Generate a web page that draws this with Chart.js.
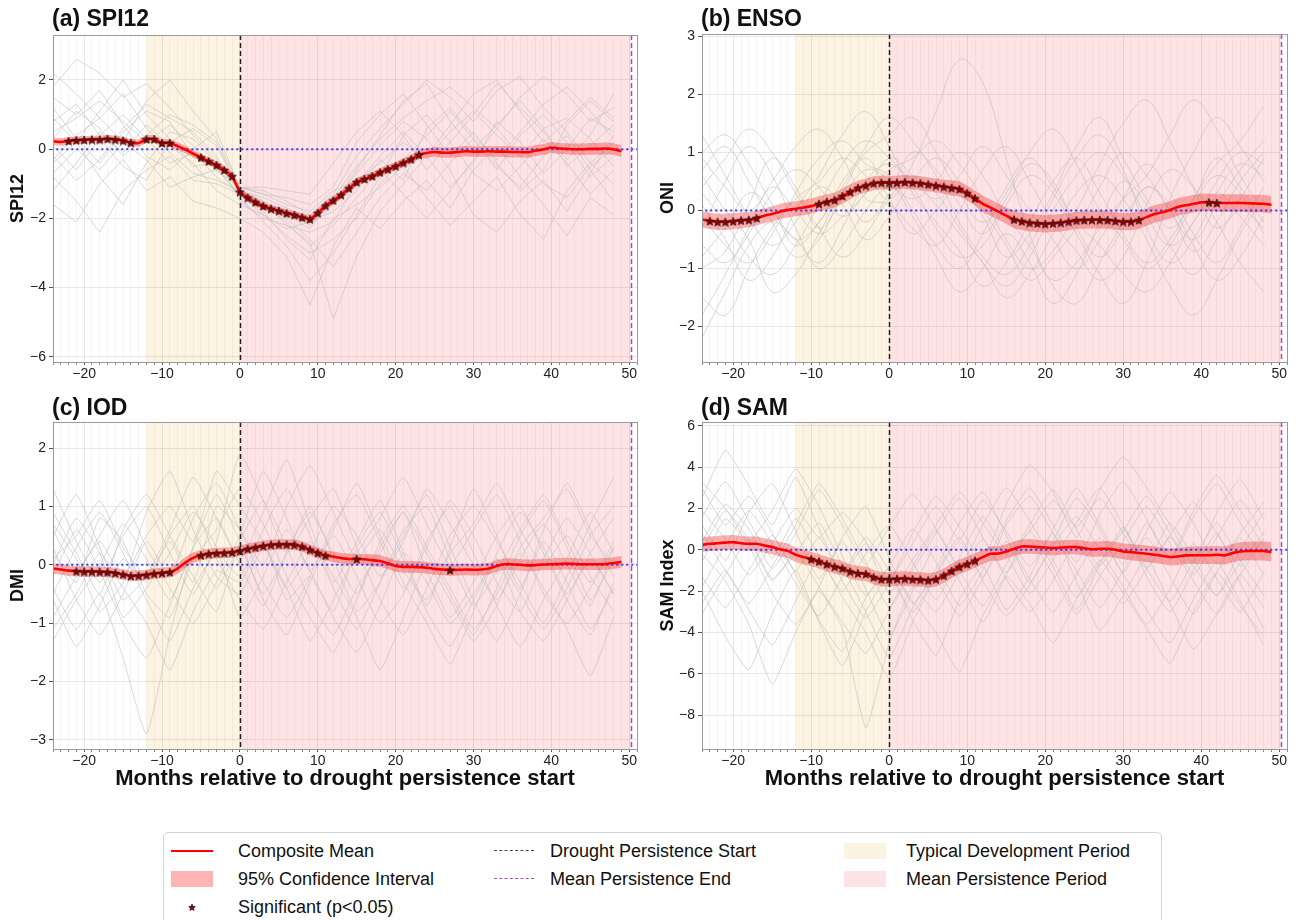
<!DOCTYPE html>
<html><head><meta charset="utf-8">
<script src="https://cdn.jsdelivr.net/npm/chart.js@4.4.1/dist/chart.umd.min.js"></script>
<style>
body{margin:0;background:#fff;width:1299px;height:920px;position:relative;overflow:hidden;font-family:"Liberation Sans",Arial,sans-serif;}
.panel{position:absolute;}
#legend{position:absolute;left:163px;top:832px;width:997px;height:110px;border:1px solid #d4d4d4;border-radius:5px;background:#fff;}
.lt{position:absolute;font-size:18px;color:#111;line-height:20px;white-space:nowrap;}
.hl{position:absolute;height:0;}
.sw{position:absolute;width:42px;height:16px;}
</style></head>
<body>
<canvas id="pa" class="panel" style="left:0;top:0" width="650" height="390"></canvas>
<canvas id="pb" class="panel" style="left:650px;top:0" width="649" height="390"></canvas>
<canvas id="pc" class="panel" style="left:0;top:390px" width="650" height="410"></canvas>
<canvas id="pd" class="panel" style="left:650px;top:390px" width="649" height="410"></canvas>
<div id="legend"></div>
<script>
// ---------------- DATA ----------------
const months = [-24,-23,-22,-21,-20,-19,-18,-17,-16,-15,-14,-13,-12,-11,-10,-9,-8,-7,-6,-5,-4,-3,-2,-1,
  0,1,2,3,4,5,6,7,8,9,10,11,12,13,14,15,16,17,18,19,20,21,22,23,24,25,26,27,28,29,30,31,32,33,34,35,36,37,38,39,40,41,42,43,44,45,46,47,48,49];
const eventMonths = [-24,-21,-18,-15,-12,-9,-6,-3,0,3,6,9,12,15,18,21,24,27,30,33,36,39,42,45,48];
const xTickLabels = [-20,-10,0,10,20,30,40,50];
const devStart = -12, persistStart = 0, persistEnd = 50.2;

// (a) SPI12
const spiMean = [0.23,0.21,0.24,0.26,0.27,0.28,0.28,0.30,0.28,0.25,0.19,0.18,0.29,0.29,0.18,0.18,0.09,-0.01,-0.13,-0.24,-0.35,-0.46,-0.60,-0.78,
  -1.23,-1.40,-1.53,-1.64,-1.72,-1.78,-1.85,-1.90,-1.97,-2.02,-1.84,-1.63,-1.48,-1.32,-1.13,-0.95,-0.86,-0.78,-0.67,-0.58,-0.49,-0.39,-0.29,-0.16,
  -0.11,-0.08,-0.10,-0.10,-0.08,-0.06,-0.07,-0.07,-0.06,-0.07,-0.07,-0.08,-0.08,-0.09,-0.04,-0.01,0.05,0.02,0.01,0.00,0.00,0.01,0.01,0.02,0.00,-0.06];
const spiCI = [0.11,0.11,0.11,0.11,0.11,0.11,0.11,0.11,0.11,0.11,0.11,0.11,0.11,0.11,0.11,0.11,0.11,0.11,0.11,0.11,0.11,0.11,0.11,0.11,
  0.11,0.11,0.11,0.11,0.11,0.11,0.11,0.11,0.12,0.12,0.12,0.12,0.12,0.12,0.12,0.12,0.12,0.12,0.12,0.12,0.12,0.12,0.13,0.13,
  0.14,0.14,0.15,0.15,0.15,0.15,0.15,0.15,0.15,0.15,0.16,0.16,0.16,0.16,0.16,0.16,0.16,0.16,0.16,0.16,0.17,0.17,0.17,0.17,0.17,0.17];
const spiSig = [-22,-21,-20,-19,-18,-17,-16,-15,-14,-12,-11,-10,-9,-5,-4,-3,-2,-1,0,1,2,3,4,5,6,7,8,9,10,11,12,13,14,15,16,17,18,19,20,21,22,23];
const spiEvents = [
  [1.8,2.6,2.2,1.5,1.9,1.2,0.4,-0.3,-1.2,-1.6,-1.9,-2.3,-1.4,-0.5,0.3,0.9,1.4,1.8,1.2,0.6,1.5,2.1,1.6,0.8,1.2],
  [-0.8,-1.5,-2.4,-1.2,-0.6,-0.2,-0.9,-1.0,-1.3,-1.8,-2.6,-3.2,-2.0,-1.6,-1.1,-0.5,-1.4,-2.2,-1.5,-0.8,-1.9,-2.6,-1.2,-0.4,-1.0],
  [0.5,0.9,1.4,0.8,0.2,0.7,0.1,-0.6,-1.1,-1.3,-1.6,-1.8,-1.2,-0.9,-0.4,0.2,-0.3,0.5,1.1,0.4,-0.2,0.6,0.9,0.3,-0.5],
  [1.2,0.3,-0.4,0.5,1.1,0.8,-0.2,-0.5,-1.4,-2.1,-2.8,-3.8,-3.0,-1.9,-0.8,0.4,1.0,0.2,-0.7,-1.2,-0.5,0.3,-0.4,-1.3,-0.6],
  [-0.3,0.4,0.9,1.6,0.6,-0.1,-0.7,-0.9,-1.2,-1.5,-2.2,-2.7,-4.9,-3.1,-1.8,-1.0,-0.2,0.7,1.6,2.0,1.1,0.2,0.8,1.5,0.9],
  [0.1,-0.6,0.3,-0.5,-0.9,0.2,0.6,0.1,-1.2,-1.4,-1.7,-2.0,-1.5,-0.7,0.1,0.8,0.3,-0.6,-1.9,-2.4,-1.5,-0.9,-1.8,-0.7,0.4],
  [2.2,1.6,0.9,0.2,1.4,2.0,1.1,0.3,-1.1,-1.2,-1.5,-1.9,-1.3,-0.2,0.6,1.3,2.0,1.5,0.8,1.7,2.1,1.2,0.5,-0.4,0.2],
  [-1.6,-2.1,-1.0,-0.3,-1.2,-0.8,-1.5,-1.7,-2.0,-2.4,-3.1,-4.5,-2.8,-1.7,-2.3,-1.5,-0.9,-1.7,-0.6,0.1,-0.8,-1.6,-2.5,-1.4,-1.9],
  [0.8,1.3,0.4,1.0,0.3,-0.4,-0.1,-0.8,-1.3,-1.9,-2.3,-2.1,-1.8,-1.2,-0.3,-0.9,0.6,1.2,0.4,-0.3,0.5,1.3,1.8,1.1,0.3],
  [-0.4,0.2,-0.8,-1.6,-0.4,0.5,0.3,-0.4,-1.2,-1.7,-2.0,-2.6,-3.4,-2.4,-1.4,-0.7,-1.2,-0.4,0.3,-0.5,-1.1,-0.2,0.4,-0.6,-1.5],
  [0.9,0.2,1.1,2.0,1.0,0.3,-0.5,-0.4,-1.1,-1.1,-1.2,-1.3,-0.4,0.5,1.1,0.4,-0.6,0.2,1.0,1.9,1.2,0.5,-0.3,0.4,1.6],
  [-0.2,-0.9,-0.3,0.6,1.3,0.9,0.5,-0.2,-1.5,-2.0,-2.2,-2.4,-2.1,-1.0,-0.2,0.5,-0.2,-1.1,-0.4,0.8,0.2,-0.7,0.0,0.9,0.5],
  [1.5,1.0,1.7,0.7,-0.2,-0.6,0.0,0.5,-1.1,-1.3,-1.4,-1.6,-1.1,0.2,1.0,1.6,0.7,-0.2,0.5,-0.4,-1.2,-0.6,0.7,1.4,0.8],
  [-1.2,-0.4,0.5,-0.1,0.7,0.1,-0.4,-1.2,-1.6,-1.9,-2.5,-3.0,-2.6,-2.0,-1.0,-0.3,0.4,1.1,0.3,-0.6,0.4,1.0,0.2,-0.8,-0.2],
  [0.3,1.1,0.6,-0.2,0.4,1.0,0.7,0.2,-1.2,-1.5,-1.8,-2.2,-1.6,-0.6,0.4,1.4,1.9,0.8,0.0,0.7,1.4,0.6,-0.5,0.1,0.7],
  [-0.7,0.0,-0.6,0.2,-0.3,-1.1,-0.8,-0.6,-1.3,-1.6,-2.1,-2.8,-2.2,-1.4,-0.6,-1.3,-2.0,-1.2,-0.3,0.6,-0.2,-1.0,-1.4,-0.5,0.0]
];

// (b) ENSO (ONI)
const oniMean = [-0.155,-0.18,-0.195,-0.195,-0.185,-0.17,-0.16,-0.13,-0.09,-0.06,-0.02,0.01,0.03,0.05,0.075,0.115,0.15,0.18,0.25,0.32,0.39,0.43,0.47,0.48,
  0.48,0.48,0.49,0.48,0.47,0.45,0.43,0.41,0.39,0.37,0.30,0.21,0.115,0.05,-0.02,-0.09,-0.155,-0.185,-0.21,-0.22,-0.23,-0.22,-0.21,-0.19,
  -0.17,-0.165,-0.16,-0.16,-0.165,-0.18,-0.19,-0.19,-0.165,-0.115,-0.06,-0.03,0.01,0.06,0.09,0.115,0.14,0.14,0.13,0.13,0.13,0.13,0.125,0.12,0.115,0.10];
const oniCI = [0.14,0.14,0.14,0.14,0.14,0.14,0.13,0.13,0.13,0.13,0.13,0.13,0.13,0.13,0.13,0.13,0.13,0.13,0.13,0.13,0.12,0.12,0.12,0.12,
  0.12,0.12,0.12,0.12,0.12,0.12,0.12,0.12,0.13,0.13,0.13,0.13,0.14,0.14,0.14,0.14,0.15,0.15,0.15,0.15,0.15,0.15,0.15,0.15,
  0.15,0.15,0.15,0.15,0.15,0.15,0.15,0.15,0.15,0.15,0.15,0.15,0.15,0.15,0.15,0.15,0.15,0.15,0.15,0.15,0.15,0.15,0.15,0.15,0.15,0.15];
const oniSig = [-23,-22,-21,-20,-19,-18,-17,-9,-8,-7,-6,-5,-4,-3,-2,-1,0,1,2,3,4,5,6,7,8,9,10,11,
  16,17,18,19,20,21,22,23,24,25,26,27,28,29,30,31,32,41,42];
const oniEvents = [
  [1.0,1.3,0.8,0.1,-0.5,-0.2,0.4,1.1,1.6,1.2,0.6,-0.2,-0.8,-1.1,-0.6,0.2,0.9,1.3,0.7,-0.3,-0.9,-0.5,0.3,0.8,0.6],
  [-1.5,-1.8,-1.0,-0.3,0.2,0.5,0.9,0.6,0.2,0.8,1.7,2.6,2.2,0.9,-0.4,-1.3,-1.6,-0.9,-0.2,0.4,0.1,-0.6,-1.2,-0.8,-0.1],
  [0.3,-0.2,-0.8,-1.1,-0.6,0.1,0.8,1.2,0.9,0.5,0.1,-0.4,-0.9,-1.5,-1.1,-0.4,0.3,0.6,0.2,-0.5,-1.3,-1.8,-1.2,-0.4,0.2],
  [-0.6,-0.9,-0.4,0.3,0.7,0.4,-0.1,0.3,0.7,0.9,1.2,0.8,0.2,-0.5,-1.0,-0.7,0.0,0.8,1.5,1.9,1.2,0.4,-0.3,0.2,0.9],
  [-2.2,-1.4,-0.6,-0.2,-0.5,-0.9,-0.3,0.5,0.8,0.4,-0.3,-0.8,-0.6,0.1,0.6,0.3,-0.4,-1.1,-1.6,-0.9,0.2,1.0,1.6,1.1,0.5],
  [0.9,0.4,0.0,0.5,1.1,1.4,0.9,0.2,0.1,-0.3,-0.6,0.0,0.7,1.1,0.5,-0.2,-0.7,-1.2,-0.8,0.1,0.7,0.4,-0.2,-0.9,-1.4],
  [-0.3,0.5,1.1,0.6,-0.3,-1.0,-0.6,0.0,0.4,0.2,0.5,1.0,0.6,-0.1,-0.6,-1.2,-0.9,-0.3,0.2,0.6,1.3,1.9,1.4,0.6,0.0],
  [0.1,-0.5,-1.2,-0.8,0.0,0.6,1.3,1.7,1.1,0.3,-0.2,-0.7,-1.3,-0.9,-0.2,0.5,0.9,0.3,-0.4,-0.9,-0.5,0.2,0.8,1.2,1.8],
  [0.6,0.0,-0.5,-1.4,-1.1,-0.4,0.2,-0.2,0.3,1.0,0.7,0.1,-0.4,0.2,0.8,0.5,-0.3,-0.8,-0.3,0.4,0.0,-0.7,-0.2,0.5,1.0],
  [-1.0,-0.7,0.1,0.9,0.4,-0.3,0.2,0.7,0.5,-0.1,-0.8,-1.4,-1.0,-0.4,-0.9,-1.6,-1.1,-0.2,0.5,0.1,-0.6,-1.1,-0.5,0.0,-0.3],
  [0.4,0.9,1.4,1.0,0.3,-0.3,-0.8,-0.4,0.2,0.6,0.3,-0.3,-0.9,-1.3,-0.8,0.0,0.6,1.0,0.6,-0.1,-0.6,-0.2,0.5,1.0,0.8],
  [-0.8,-0.3,0.3,0.0,-0.6,-0.2,0.5,1.0,1.3,1.6,1.0,0.3,-0.2,0.3,1.0,1.4,0.8,0.0,-0.5,-1.0,-0.6,0.1,0.6,0.3,-0.4],
  [1.3,0.6,-0.1,-0.6,-0.2,0.4,0.1,-0.5,-0.1,0.5,0.9,0.5,0.0,-0.6,-1.2,-0.8,-0.3,0.4,1.0,0.6,0.0,-0.5,0.1,0.7,1.2],
  [-0.1,-0.6,-0.9,-0.4,0.3,0.9,1.2,0.8,0.6,0.0,-0.6,-1.0,-0.4,0.4,0.9,0.4,-0.2,-0.6,-1.1,-1.4,-0.9,-0.2,0.3,-0.1,-0.6],
  [-1.8,-1.1,-0.3,0.4,0.0,-0.4,-0.1,0.3,0.9,0.6,0.2,0.6,1.1,0.6,0.0,-0.5,-1.0,-0.5,0.2,0.8,0.3,-0.4,-0.9,-0.3,0.4],
  [0.7,1.1,0.5,-0.2,-0.8,-0.5,0.3,0.9,0.2,-0.4,0.0,0.4,-0.1,-0.8,-0.4,0.3,1.1,1.6,0.9,0.2,-0.3,0.2,0.9,0.4,-0.2]
];

// (c) IOD (DMI)
const dmiMean = [-0.065,-0.08,-0.10,-0.11,-0.115,-0.115,-0.12,-0.125,-0.14,-0.165,-0.19,-0.185,-0.17,-0.15,-0.14,-0.125,-0.065,0.04,0.12,0.165,0.19,0.20,0.205,0.215,
  0.24,0.275,0.30,0.325,0.345,0.35,0.35,0.345,0.315,0.26,0.205,0.16,0.14,0.115,0.10,0.10,0.095,0.08,0.065,0.025,-0.02,-0.035,-0.035,-0.04,
  -0.05,-0.07,-0.08,-0.09,-0.085,-0.08,-0.085,-0.08,-0.065,-0.02,0.01,0.01,0.00,-0.01,-0.005,0.005,0.01,0.015,0.02,0.015,0.01,0.01,0.01,0.015,0.03,0.05];
const dmiCI = [0.09,0.09,0.09,0.09,0.09,0.09,0.09,0.09,0.09,0.09,0.09,0.09,0.09,0.09,0.09,0.09,0.09,0.09,0.09,0.09,0.09,0.09,0.09,0.09,
  0.09,0.09,0.09,0.09,0.09,0.09,0.09,0.09,0.09,0.09,0.09,0.09,0.09,0.09,0.09,0.09,0.09,0.10,0.10,0.10,0.10,0.10,0.10,0.10,
  0.10,0.10,0.10,0.10,0.10,0.10,0.10,0.10,0.10,0.10,0.10,0.10,0.10,0.10,0.10,0.10,0.10,0.10,0.10,0.10,0.10,0.10,0.10,0.10,0.10,0.10];
const dmiSig = [-21,-20,-19,-18,-17,-16,-15,-14,-13,-12,-11,-10,-9,-5,-4,-3,-2,-1,0,1,2,3,4,5,6,7,8,9,10,11,15,27];
const dmiEvents = [
  [0.5,1.2,0.3,-0.6,-0.2,0.6,1.5,0.8,0.1,0.9,1.8,0.7,-0.3,0.4,1.1,0.2,-0.7,0.3,1.3,0.5,-0.4,0.6,1.4,0.6,-0.2],
  [-0.4,-1.1,-0.5,-1.6,-2.9,-1.2,0.3,1.2,0.4,-0.5,0.2,1.0,0.1,-0.8,-0.3,0.5,1.2,0.3,-0.6,-1.3,-0.5,0.4,-0.3,-1.1,-0.4],
  [0.2,-0.3,0.8,0.4,-0.5,-0.9,0.1,0.6,1.3,0.7,-0.2,-0.9,-1.5,-0.6,0.3,0.9,0.2,-0.5,-1.2,-0.4,0.5,1.1,0.3,-0.6,0.1],
  [-0.9,-0.2,0.5,1.1,0.3,-0.4,-1.0,-0.3,0.5,1.6,0.8,-0.1,0.6,1.4,0.5,-0.3,-1.0,-1.7,-0.8,0.2,0.9,0.3,-0.5,0.2,0.8],
  [0.7,0.1,-0.8,-0.3,0.9,1.6,0.6,-0.2,-0.5,0.3,-0.4,-1.3,-0.6,0.2,0.8,1.5,0.7,0.0,0.6,1.2,0.4,-0.5,-1.0,-0.4,0.3],
  [-0.2,0.6,-0.1,-1.0,-1.6,-0.7,0.2,-0.4,0.3,-0.6,-1.2,-0.3,0.5,-0.2,-1.0,-0.5,0.4,1.0,0.2,-0.7,-1.4,-0.6,0.1,0.9,0.2],
  [1.3,0.4,-0.3,0.5,1.0,0.2,-0.5,0.4,1.9,1.1,0.2,0.8,1.3,0.3,-0.6,-1.2,-0.4,0.5,1.0,0.4,-0.3,-1.0,-0.2,0.7,1.5],
  [-0.6,-1.4,-0.7,0.1,-0.3,0.5,1.0,0.1,-0.6,-1.1,-0.3,0.4,-0.2,-0.9,-1.8,-0.9,0.0,-0.6,-1.3,-0.7,0.2,-0.4,-1.1,-1.9,-0.9],
  [0.1,0.5,1.1,0.3,-0.2,0.4,-0.3,1.0,0.6,0.0,1.0,1.7,0.9,0.1,0.6,-0.1,-0.6,0.2,0.7,1.4,0.6,0.0,0.5,-0.2,-0.8],
  [-1.1,-0.5,0.2,-0.4,-1.0,-1.8,-0.8,-0.1,-0.3,0.4,-0.6,-0.2,-0.9,-1.5,-0.7,0.2,-0.3,-1.0,-0.5,0.1,-0.8,-1.3,-0.6,0.1,-0.5],
  [0.3,-0.6,-1.2,-0.5,0.4,-0.2,0.8,1.4,0.6,-0.3,-0.9,-0.2,0.7,1.2,0.4,-0.4,0.3,1.1,0.5,-0.3,-0.8,0.1,0.8,0.2,-0.5],
  [-0.5,0.3,0.9,0.2,-0.6,-1.3,-0.4,0.2,-0.2,0.6,1.3,0.5,-0.4,-1.1,-0.3,0.6,1.0,0.1,-0.7,-0.1,0.6,1.2,0.4,-0.3,0.4],
  [0.9,0.2,-0.5,0.6,1.2,0.5,-0.2,-0.8,0.4,1.1,0.3,-0.6,-1.2,-0.4,0.2,0.9,-0.1,-0.9,-0.3,0.5,1.0,0.2,-0.6,-1.2,-0.3],
  [-1.3,-0.6,0.0,0.7,0.1,-0.6,0.3,0.8,0.0,-0.7,0.2,0.9,0.2,-0.5,0.4,1.0,0.3,-0.4,-1.1,-0.5,0.3,0.8,1.3,0.5,0.0],
  [0.0,0.8,0.2,-0.9,-0.4,0.2,0.9,0.3,-0.9,-0.2,0.6,-0.1,-0.8,0.3,0.9,0.1,-0.8,-1.4,-0.6,0.1,-0.5,-1.1,-0.4,0.5,1.0],
  [0.6,-0.1,0.4,-0.2,0.5,1.0,0.4,1.6,1.0,0.4,-0.4,0.2,1.0,0.5,-0.2,0.4,1.3,0.7,0.0,-0.6,0.1,0.7,0.0,-0.7,0.3]
];

// (d) SAM
const samMean = [0.24,0.29,0.32,0.35,0.37,0.32,0.29,0.29,0.21,0.13,0.03,-0.05,-0.24,-0.35,-0.45,-0.56,-0.69,-0.81,-0.89,-1.05,-1.13,-1.16,-1.32,-1.42,
  -1.42,-1.40,-1.39,-1.42,-1.44,-1.47,-1.42,-1.24,-1.02,-0.82,-0.68,-0.52,-0.35,-0.19,-0.18,-0.08,0.05,0.16,0.16,0.13,0.11,0.08,0.11,0.13,
  0.13,0.08,0.03,0.05,0.05,0.00,-0.08,-0.11,-0.15,-0.19,-0.24,-0.29,-0.35,-0.32,-0.27,-0.26,-0.26,-0.26,-0.24,-0.27,-0.16,-0.08,-0.06,-0.06,-0.06,-0.10];
const samCI = [0.35,0.35,0.35,0.35,0.35,0.35,0.35,0.35,0.35,0.35,0.35,0.35,0.35,0.35,0.35,0.35,0.35,0.35,0.35,0.35,0.35,0.35,0.35,0.35,
  0.35,0.35,0.35,0.35,0.35,0.35,0.35,0.35,0.35,0.35,0.35,0.35,0.35,0.35,0.35,0.35,0.35,0.35,0.35,0.35,0.35,0.35,0.35,0.35,
  0.36,0.36,0.37,0.37,0.38,0.38,0.38,0.39,0.39,0.40,0.40,0.40,0.41,0.41,0.41,0.42,0.42,0.43,0.43,0.44,0.44,0.45,0.45,0.46,0.46,0.47];
const samSig = [-10,-9,-8,-7,-6,-5,-4,-3,-2,-1,0,1,2,3,4,5,6,7,8,9,10,11];
const samEvents = [
  [2.5,4.8,3.1,1.2,3.5,1.0,-1.2,0.3,-1.5,0.8,2.6,1.1,-0.5,2.2,4.1,2.8,0.6,2.9,4.5,3.0,1.2,-0.6,1.8,3.4,1.5],
  [-2.0,-4.2,-5.8,-3.1,-1.0,-3.5,-5.6,-3.0,-1.2,-3.4,-5.1,-2.4,-0.8,-2.9,-1.3,0.8,-1.5,-3.9,-2.2,-0.4,-2.6,-4.8,-3.1,-1.2,-2.8],
  [1.2,-0.5,1.8,3.2,0.9,-1.4,0.6,2.1,-0.4,-2.6,-0.9,1.3,2.8,0.7,-1.6,0.4,2.5,1.0,-1.1,0.9,2.8,1.3,-0.7,0.8,2.3],
  [-0.6,1.5,0.2,-2.1,-3.6,-1.8,0.4,-1.9,-4.2,-2.0,0.2,-1.5,-3.5,-1.2,0.9,-0.8,-2.9,-0.7,1.1,-1.3,-3.0,-1.0,0.8,-1.6,-3.8],
  [3.3,2.0,0.4,1.9,3.9,2.1,-0.3,-2.2,-0.8,1.0,-0.6,-2.7,-1.0,1.4,3.0,1.2,-0.6,1.7,3.3,1.5,-0.4,1.9,3.6,1.9,0.2],
  [-3.1,-1.2,0.5,-1.4,-0.2,1.3,-0.8,-3.0,-5.2,-2.8,-1.1,0.6,-1.5,-3.2,-1.7,0.2,1.6,0.0,-1.8,-3.6,-1.9,0.3,-1.4,-3.0,-1.1],
  [0.4,2.2,1.0,-0.9,0.8,2.9,1.2,-0.7,1.1,2.7,1.0,-0.8,1.2,3.0,1.4,-0.5,-2.3,-0.6,0.9,2.6,0.8,-1.2,0.6,2.4,0.7],
  [-1.3,-2.8,-1.0,0.7,-1.2,-3.4,-4.9,-2.3,-0.9,-2.5,-4.0,-5.9,-3.2,-1.3,-2.6,-4.5,-2.4,-0.5,-2.1,-3.8,-5.5,-3.0,-1.1,-2.7,-4.2],
  [1.9,0.5,-1.2,0.3,2.0,0.6,1.8,0.4,-2.1,-0.5,1.2,2.8,1.3,-0.2,0.9,2.4,1.1,2.5,0.8,-0.9,0.7,2.3,0.8,-0.8,0.6],
  [-0.2,-1.5,-3.6,-6.5,-4.0,-2.0,-3.8,-8.6,-4.5,-1.8,-3.0,-1.1,0.5,-1.4,-3.0,-1.5,0.3,-1.2,-2.6,-0.9,0.6,-0.8,-2.2,-0.6,0.8],
  [0.8,-1.0,-2.6,-0.8,1.2,3.2,1.5,-0.6,-2.8,-1.0,0.8,2.5,0.6,-1.1,0.5,-1.2,-3.1,-1.3,0.4,2.1,0.3,-1.5,-3.1,-1.2,0.5],
  [3.0,1.2,2.6,0.8,-1.0,0.6,-1.5,-3.3,-1.6,0.3,2.1,0.5,2.4,0.9,-0.8,1.0,3.0,1.2,-0.7,1.3,-0.5,1.6,3.2,1.3,-0.4],
  [-1.8,0.2,1.9,0.3,-1.6,-3.2,-1.3,0.6,-1.0,-3.0,-1.2,0.4,-1.3,1.2,2.6,0.8,-1.0,-2.8,-1.0,0.6,-1.3,-3.1,-1.1,0.6,-1.2],
  [0.0,1.9,0.5,-1.5,-0.1,-1.8,-3.5,-5.0,-2.9,-0.8,0.9,-1.0,-2.7,-0.7,1.2,2.9,1.0,-0.8,1.0,-0.9,-2.5,-0.5,1.3,-0.5,-2.2],
  [1.6,3.3,1.4,-0.4,1.5,-0.3,-2.0,-0.2,1.2,-0.6,-2.4,-0.4,1.6,-0.2,-2.1,-0.5,1.3,3.0,1.2,-0.6,1.3,-0.4,-2.2,0.0,1.8],
  [-2.6,-1.0,-2.9,-4.6,-2.5,-0.4,-2.3,-4.0,-6.2,-3.5,-1.5,-3.2,-1.4,0.4,-1.4,-3.0,-1.2,0.6,-1.2,-2.9,-4.5,-2.4,-0.6,-2.5,-4.6]
];

// ---------------- DRAWING ----------------
const FONT = '"Liberation Sans", Arial, sans-serif';
Chart.defaults.font.family = FONT;
const fmt = v => String(v).replace('-', '\u2212');

function makeStar(size){
  const c = document.createElement('canvas'); c.width = size; c.height = size;
  const g = c.getContext('2d'); g.beginPath();
  const cx = size/2, cy = size/2 + 0.6, R = size/2 - 0.4, r = R*0.45;
  for (let i = 0; i < 10; i++){
    const a = -Math.PI/2 + i*Math.PI/5, rad = i % 2 ? r : R;
    g.lineTo(cx + rad*Math.cos(a), cy + rad*Math.sin(a));
  }
  g.closePath(); g.fillStyle = '#7a0a0a'; g.fill();
  g.lineWidth = 0.6; g.strokeStyle = '#2a0000'; g.stroke();
  return c;
}
const starImg = makeStar(10);

const panels = [
  {id:'pa', title:'(a) SPI12', ylabel:'SPI12', mean:spiMean, ci:spiCI, sig:spiSig, events:spiEvents,
   ymin:-6.15, ymax:3.3, ystep:2, padTop:35, padRight:13, yW:53, xH:28, xTitle:false, tension:0, titleY:20},
  {id:'pb', title:'(b) ENSO', ylabel:'ONI', mean:oniMean, ci:oniCI, sig:oniSig, events:oniEvents,
   ymin:-2.61, ymax:3.04, ystep:1, padTop:34, padRight:12, yW:52, xH:28, xTitle:false, tension:0.4, titleY:20},
  {id:'pc', title:'(c) IOD', ylabel:'DMI', mean:dmiMean, ci:dmiCI, sig:dmiSig, events:dmiEvents,
   ymin:-3.16, ymax:2.45, ystep:1, padTop:32, padRight:13, yW:53, xH:51, xTitle:true, tension:0.15, titleY:19},
  {id:'pd', title:'(d) SAM', ylabel:'SAM Index', mean:samMean, ci:samCI, sig:samSig, events:samEvents,
   ymin:-9.63, ymax:6.18, ystep:2, padTop:32, padRight:12, yW:52, xH:51, xTitle:true, tension:0.15, titleY:19}
];

function buildChart(p){
  const datasets = [];
  p.events.forEach(ev => datasets.push({
    data: eventMonths.map((m,i) => ({x:m, y:ev[i]})),
    borderColor:'rgba(192,192,192,0.6)', borderWidth:1, pointRadius:0, tension:p.tension, order:10, fill:false
  }));
  datasets.push({ // lower CI
    data: months.map((m,i) => ({x:m, y:p.mean[i] - p.ci[i]})),
    borderWidth:0, borderColor:'rgba(0,0,0,0)', pointRadius:0, order:4, fill:false, tension:0.2
  });
  datasets.push({ // upper CI
    data: months.map((m,i) => ({x:m, y:p.mean[i] + p.ci[i]})),
    borderWidth:0, borderColor:'rgba(0,0,0,0)', pointRadius:0, order:4, fill:'-1',
    backgroundColor:'rgba(238,45,45,0.36)', tension:0.2
  });
  datasets.push({ // zero reference
    data:[{x:-30, y:0},{x:60, y:0}], borderColor:'rgba(30,30,255,0.85)', borderDash:[2,3],
    borderWidth:2, pointRadius:0, order:3, fill:false
  });
  datasets.push({ // composite mean
    data: months.map((m,i) => ({x:m, y:p.mean[i]})),
    borderColor:'#ff0000', borderWidth:2.6, pointRadius:0, order:2, fill:false, tension:0.2
  });
  datasets.push({ // significant
    data: p.sig.map(m => ({x:m, y:p.mean[months.indexOf(m)]})),
    showLine:false, pointStyle:starImg, pointRadius:5, order:1, fill:false
  });

  const deco = {
    id:'deco'+p.id,
    beforeDraw(chart){
      const {ctx, chartArea:a, scales:{x}} = chart;
      const px = v => x.getPixelForValue(v);
      ctx.save();
      ctx.fillStyle = '#fdf3e2';
      ctx.fillRect(px(devStart), a.top, px(persistStart) - px(devStart), a.bottom - a.top);
      ctx.fillStyle = '#fee3e5';
      ctx.fillRect(px(persistStart), a.top, px(persistEnd) - px(persistStart), a.bottom - a.top);
      ctx.restore();
    },
    afterDatasetsDraw(chart){
      const {ctx, chartArea:a, scales:{x}} = chart;
      ctx.save();
      ctx.lineWidth = 1.5;
      ctx.setLineDash([5,3]);
      ctx.strokeStyle = '#222';
      let xx = Math.round(x.getPixelForValue(persistStart)) + 0.5;
      ctx.beginPath(); ctx.moveTo(xx, a.top); ctx.lineTo(xx, a.bottom); ctx.stroke();
      ctx.strokeStyle = '#b045c4';
      xx = Math.round(x.getPixelForValue(persistEnd)) + 0.5;
      ctx.beginPath(); ctx.moveTo(xx, a.top); ctx.lineTo(xx, a.bottom); ctx.stroke();
      ctx.restore();
    },
    afterDraw(chart){
      const {ctx, chartArea:a} = chart;
      ctx.save();
      ctx.strokeStyle = '#9a9a9a'; ctx.lineWidth = 1;
      ctx.strokeRect(Math.round(a.left) + 0.5, Math.round(a.top) + 0.5, Math.round(a.right - a.left), Math.round(a.bottom - a.top));
      ctx.fillStyle = '#111';
      ctx.font = 'bold 23px ' + FONT;
      ctx.textBaseline = 'middle';
      ctx.textAlign = 'left';
      ctx.fillText(p.title, a.left - 1, p.titleY);
      ctx.restore();
    }
  };

  return new Chart(document.getElementById(p.id), {
    type:'line',
    data:{datasets},
    plugins:[deco],
    options:{
      responsive:false, animation:false, parsing:true,
      layout:{padding:{top:p.padTop, right:p.padRight, left:0, bottom:0}},
      plugins:{legend:{display:false}, tooltip:{enabled:false}},
      scales:{
        x:{type:'linear', min:-24, max:51,
          afterFit: s => { s.height = p.xH; },
          ticks:{stepSize:1, autoSkip:false, maxRotation:0, includeBounds:false, maxTicksLimit:200,
            callback: v => xTickLabels.includes(v) ? fmt(v) : '',
            font:{size:14}, color:'#222', padding:1},
          grid:{color: c => (c.tick && c.tick.value % 10 === 0) ? 'rgba(0,0,0,0.085)' : 'rgba(0,0,0,0.04)',
            tickColor: c => (c.tick && c.tick.value % 10 === 0) ? '#555' : '#888',
            tickLength:3, lineWidth:1},
          border:{display:false},
          title:{display:p.xTitle, text:'Months relative to drought persistence start',
            font:{size:22, weight:'bold'}, color:'#111', padding:{top:0, bottom:8}}
        },
        y:{type:'linear', min:p.ymin, max:p.ymax,
          afterFit: s => { s.width = p.yW; },
          ticks:{stepSize:p.ystep, includeBounds:false, callback: v => fmt(v), font:{size:14}, color:'#222', padding:3},
          grid:{color:'rgba(0,0,0,0.085)', tickLength:4, tickColor:'#555'},
          border:{display:false},
          title:{display:true, text:p.ylabel, font:{size:18, weight:'bold'}, color:'#111', padding:{top:7, bottom:0}}
        }
      }
    }
  });
}
panels.forEach(buildChart);

// ---------------- LEGEND (HTML text) ----------------
const legendItems = [
  {label:'Composite Mean', kind:'line', color:'#ff0000', col:0, row:0},
  {label:'95% Confidence Interval', kind:'patch', color:'#ffb3b3', col:0, row:1},
  {label:'Significant (p<0.05)', kind:'star', color:'#7a0a0a', col:0, row:2},
  {label:'Drought Persistence Start', kind:'dash', color:'#444', col:1, row:0},
  {label:'Mean Persistence End', kind:'dash', color:'#b045c4', col:1, row:1},
  {label:'Typical Development Period', kind:'patch', color:'#fdf3e2', col:2, row:0},
  {label:'Mean Persistence Period', kind:'patch', color:'#fee3e5', col:2, row:1}
];
const colHandle = [7, 330, 680];
const colText = [74, 386, 742];
const rowY = [18, 46, 74];
const lg = document.getElementById('legend');
legendItems.forEach(it => {
  const y = rowY[it.row], hx = colHandle[it.col];
  let h;
  if (it.kind === 'line'){
    h = document.createElement('div'); h.className = 'hl';
    h.style.cssText = `left:${hx}px;top:${y-1}px;width:42px;border-top:2.5px solid ${it.color}`;
  } else if (it.kind === 'dash'){
    h = document.createElement('div'); h.className = 'hl';
    h.style.cssText = `left:${hx}px;top:${y-1}px;width:40px;border-top:1.5px dashed ${it.color}`;
  } else if (it.kind === 'patch'){
    h = document.createElement('div'); h.className = 'sw';
    h.style.cssText = `left:${hx}px;top:${y-8}px;background:${it.color}`;
  } else {
    h = document.createElement('canvas'); h.width = 8; h.height = 8;
    h.style.cssText = `position:absolute;left:${hx+17}px;top:${y-4}px`;
    h.getContext('2d').drawImage(makeStar(8), 0, 0);
  }
  lg.appendChild(h);
  const t = document.createElement('div'); t.className = 'lt';
  t.textContent = it.label;
  t.style.left = colText[it.col] + 'px';
  t.style.top = (y - 10) + 'px';
  lg.appendChild(t);
});
</script>
</body></html>
